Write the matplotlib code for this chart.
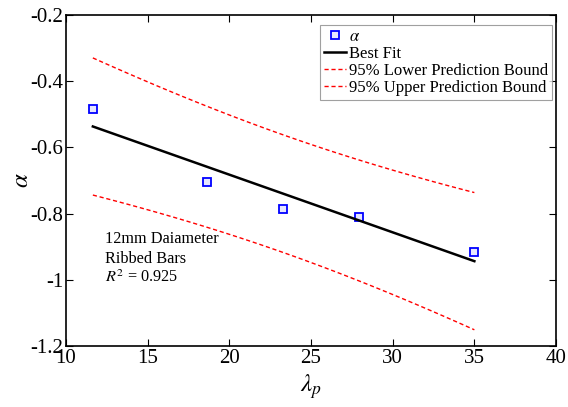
import matplotlib.pyplot as plt
import numpy as np

# data
lam_p = np.array([11.65, 18.65, 23.3, 27.95, 35.0])
alpha = np.array([-0.485, -0.705, -0.785, -0.81, -0.915])
t_95 = 3.182  # student t, 3 dof
note_lines = ["12mm Daiameter", "Ribbed Bars", r"$R^2$ = 0.925"]

plt.rcParams['font.family'] = ['Liberation Serif', 'DejaVu Serif']
plt.rcParams['mathtext.fontset'] = 'stix'

# linear fit + prediction bounds
b, a = np.polyfit(lam_p, alpha, 1)
xs = np.linspace(lam_p.min(), lam_p.max(), 100)
fit = a + b * xs
n = len(lam_p)
res = alpha - (a + b * lam_p)
s = np.sqrt(np.sum(res ** 2) / (n - 2))
sxx = np.sum((lam_p - lam_p.mean()) ** 2)
half = t_95 * s * np.sqrt(1 + 1 / n + (xs - lam_p.mean()) ** 2 / sxx)

fig = plt.figure(figsize=(5.68, 4.07), dpi=100)
ax = fig.add_axes([0.116, 0.15, 0.863, 0.813])

ax.plot(lam_p, alpha, 's', color='blue', markerfacecolor='#e6e6ff',
        markersize=5.5, markeredgewidth=1.3, label=r'$\alpha$')
ax.plot(xs, fit, color='black', lw=1.8, label='Best Fit')
ax.plot(xs, fit - half, '--', color='red', lw=1, dashes=(3, 2),
        label='95% Lower Prediction Bound')
ax.plot(xs, fit + half, '--', color='red', lw=1, dashes=(3, 2),
        label='95% Upper Prediction Bound')

ax.set_xlim(10, 40)
ax.set_ylim(-1.2, -0.2)
ax.set_xticks(np.arange(10, 41, 5))
ax.set_yticks([-1.2, -1.0, -0.8, -0.6, -0.4, -0.2])
ax.set_yticklabels(['-1.2', '-1', '-0.8', '-0.6', '-0.4', '-0.2'])
ax.tick_params(direction='in', top=True, right=True, labelsize=15, length=5, pad=2)
for sp in ax.spines.values():
    sp.set_linewidth(1.2)

ax.set_xlabel(r'$\lambda_p$', fontsize=18, labelpad=3)
ax.set_ylabel(r'$\alpha$', fontsize=18, labelpad=-2)

leg = ax.legend(loc='upper right', bbox_to_anchor=(0.992, 0.97), borderaxespad=0,
                fontsize=12, handlelength=1.3, handletextpad=0.2,
                borderpad=0.25, labelspacing=0.05, fancybox=False, edgecolor='#888888')
leg.get_frame().set_linewidth(0.8)

for i, t in enumerate(note_lines):
    ax.text(12.4, -0.877 - i * 0.059, t, fontsize=11.7, va='center')

fig.savefig('out.png', dpi=100)
